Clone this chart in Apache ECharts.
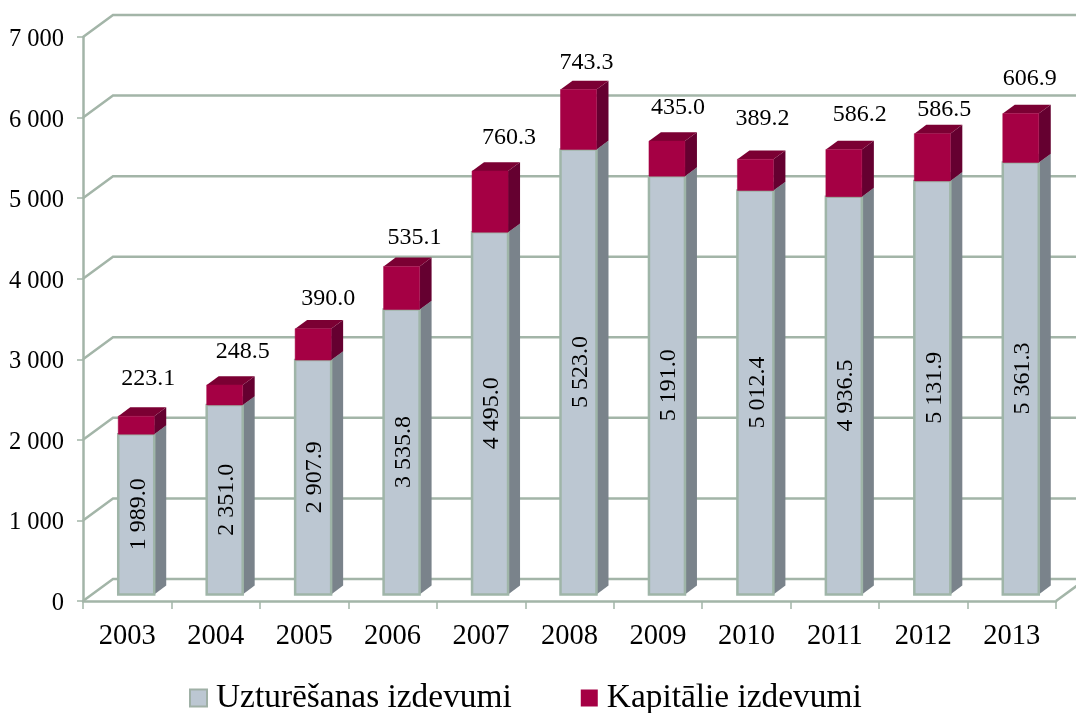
<!DOCTYPE html>
<html><head><meta charset="utf-8">
<style>html,body{margin:0;padding:0;background:#fff}#c{width:1076px;height:713px}</style>
<script src="https://cdn.jsdelivr.net/npm/echarts@6/dist/echarts.min.js"></script>
</head><body><div id="c"></div>
<script>
const years = ['2003','2004','2005','2006','2007','2008','2009','2010','2011','2012','2013'];
const upkeep = [1989.0,2351.0,2907.9,3535.8,4495.0,5523.0,5191.0,5012.4,4936.5,5131.9,5361.3];
const capital = [223.1,248.5,390.0,535.1,760.3,743.3,435.0,389.2,586.2,586.5,606.9];
const yTicks = [0,1000,2000,3000,4000,5000,6000,7000];
const upkeepName = 'Uzturēšanas izdevumi';
const capitalName = 'Kapitālie izdevumi';
// hand placement of the capital labels, as in the source chart
const labelShiftX = [12,18,15,13,19,8,11,7,16,12,9];
const labelShiftY = [-37,-33,-30,-29,-33,-27,-33,-40,-35,-24,-35];

const FONT = '"Liberation Serif","Times New Roman",serif';
const LINE = '#A3B5A8';
const DEPTH_X = 30, DEPTH_Y = -22;
const fmt = v => { const s = v.toFixed(1).split('.'); return s[0].replace(/\B(?=(\d{3})+$)/g,' ') + '.' + s[1]; };

function wallItem(params, api) {
  const cs = params.coordSys;
  const v = api.value(1);
  const y = api.coord([0, v])[1];
  const x0 = cs.x, x1 = cs.x + cs.width;
  const children = [{ type:'polyline', shape:{points:[[x0,y],[x0+DEPTH_X,y+DEPTH_Y],[x1+DEPTH_X,y+DEPTH_Y]]},
    style:{stroke:LINE,lineWidth:2.5,fill:null} }];
  if (v === 0) children.push({ type:'line', shape:{x1:x1,y1:y,x2:x1+DEPTH_X,y2:y+DEPTH_Y}, style:{stroke:LINE,lineWidth:2.5} });
  return { type:'group', children };
}

function barItem(colors, isTop) {
  return function (params, api) {
    const idx = params.dataIndex;
    const base = api.value(1), val = api.value(2);
    const bw = 36, fx = 0.3 * DEPTH_X, fy = 0.3 * DEPTH_Y, sx = 0.4 * DEPTH_X, sy = 0.4 * DEPTH_Y;
    const c0 = api.coord([api.value(0), base]);
    const c1 = api.coord([api.value(0), base + val]);
    const l = c0[0] - bw/2 + fx, r = l + bw, b = c0[1] + fy, t = c1[1] + fy;
    const kids = [
      { type:'polygon', shape:{points:[[r,b],[r+sx,b+sy],[r+sx,t+sy],[r,t]]}, style:{fill:colors.side} },
      { type:'polygon', shape:{points:[[l,t],[r,t],[r+sx,t+sy],[l+sx,t+sy]]}, style:{fill:colors.top} },
      { type:'rect', shape:{x:l,y:t,width:bw,height:b-t}, style:{fill:colors.front,stroke:colors.edge,lineWidth:colors.edgeWidth} }
    ];
    if (isTop) {
      kids.push({ type:'text', x:(l+r)/2+labelShiftX[idx], y:t+labelShiftY[idx],
        style:{text:fmt(val),fill:'#000',font:'24px '+FONT,align:'center',verticalAlign:'middle'} });
    } else {
      kids.push({ type:'text', x:(l+r)/2+2, y:(t+b)/2, rotation:Math.PI/2,
        style:{text:fmt(val),fill:'#000',font:'24px '+FONT,align:'center',verticalAlign:'middle'} });
    }
    return { type:'group', children:kids };
  };
}

const chart = echarts.init(document.getElementById('c'));
chart.setOption({
  animation:false,
  backgroundColor:'#fff',
  grid:{left:83,right:20,top:37,bottom:112,containLabel:false},
  legend:{
    left:189, top:681.5, padding:0, itemWidth:17, itemHeight:17, itemGap:69,
    data:[upkeepName,capitalName], icon:'rect',
    textStyle:{fontFamily:FONT,fontSize:33.4,color:'#000',padding:[5,0,0,4]}
  },
  xAxis:{
    type:'category', data:years,
    axisLine:{lineStyle:{color:LINE,width:2.5}},
    axisTick:{show:true,length:8,lineStyle:{color:LINE,width:1.5}},
    axisLabel:{color:'#000',fontFamily:FONT,fontSize:28.5,margin:21},
    splitLine:{show:false}
  },
  yAxis:{
    type:'value', min:0, max:7000, interval:1000,
    axisLine:{show:true,lineStyle:{color:LINE,width:2.5}},
    axisTick:{show:true,length:6,lineStyle:{color:LINE,width:1.5}},
    axisLabel:{color:'#000',fontFamily:FONT,fontSize:24.5,margin:19,verticalAlign:'top',padding:[-10,0,0,0],
      formatter:v=>String(v).replace(/\B(?=(\d{3})+$)/g,' ')},
    splitLine:{show:false}
  },
  series:[
    { type:'custom', name:'wall', clip:false, z:1, silent:true, renderItem:wallItem,
      encode:{x:0,y:1}, data:yTicks.map(v=>[0,v]) },
    { type:'custom', name:upkeepName, clip:false, z:3,
      itemStyle:{color:'#BCC7D2',borderColor:'#9FB0A6',borderWidth:1.5},
      renderItem:barItem({front:'#BCC7D2',side:'#7A838B',top:'#8C97A1',edge:'#9FB5A8',edgeWidth:2.5},false),
      encode:{x:0,y:1},
      data:upkeep.map((v,i)=>[i,0,v]) },
    { type:'custom', name:capitalName, clip:false, z:4,
      itemStyle:{color:'#A50044'},
      renderItem:barItem({front:'#A50044',side:'#650030',top:'#7B0033',edge:'#A50044',edgeWidth:0.5},true),
      encode:{x:0,y:1},
      data:capital.map((v,i)=>[i,upkeep[i],v]) }
  ]
});
</script></body></html>
